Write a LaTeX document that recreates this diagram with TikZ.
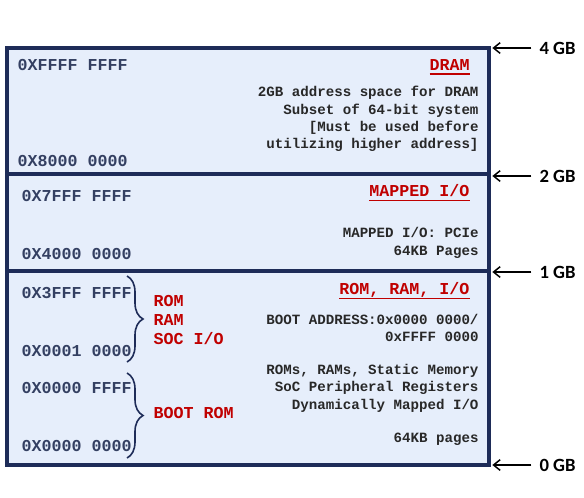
\documentclass[tikz,border=0pt]{standalone}
\usepackage{fontspec}
\setmonofont{Liberation Mono}
\newfontfamily\gbfont{Carlito}
\usetikzlibrary{arrows.meta,decorations.pathreplacing}

\definecolor{boxfill}{RGB}{230,238,251}
\definecolor{boxline}{RGB}{30,44,88}
\definecolor{addrcol}{RGB}{52,64,98}
\definecolor{desccol}{RGB}{40,40,40}
\definecolor{titlered}{RGB}{192,0,0}

% red title with its underline
\newcommand{\redul}[1]{\setbox0\hbox{#1}\rlap{\copy0}\rule[-3.4pt]{\wd0}{1.1pt}}

\tikzset{every picture/.style={line width=0.75pt},
  membox/.style={draw=boxline, fill=boxfill, line width=2.3pt},
  addr/.style={anchor=west, inner sep=0.75pt, text=addrcol, font=\ttfamily\bfseries\fontsize{12.5}{15}\selectfont},
  desc/.style={anchor=east, inner sep=0.75pt, align=right, text=desccol, font=\ttfamily\bfseries\fontsize{10.6}{13}\selectfont},
  memtitle/.style={anchor=east, inner sep=0.75pt, text=titlered, font=\ttfamily\bfseries\fontsize{12.5}{15}\selectfont},
  redlbl/.style={anchor=west, inner sep=0.75pt, align=left, text=titlered, font=\ttfamily\bfseries\fontsize{12.5}{13.9}\selectfont},
  gblbl/.style={anchor=west, inner sep=0.75pt, font=\gbfont\bfseries\fontsize{14}{16}\selectfont},
  gbarrow/.style={-{Straight Barb[length=5pt,width=8pt]}, line width=1.1pt, shorten <=5pt, shorten >=2.5pt},
  addrbrace/.style={decorate, decoration={brace, amplitude=12pt}, draw=boxline, line width=1.2pt}
}

\begin{document}
\begin{tikzpicture}[x=0.75pt,y=0.75pt,yscale=-1,xscale=1]
\useasboundingbox (0,0) rectangle (584,497);

%Shape: Rectangle [DRAM]
\draw[membox] (7,48) rectangle (489,174);
%Shape: Rectangle [MAPPED I/O]
\draw[membox] (7,174) rectangle (489,271);
%Shape: Rectangle [ROM, RAM, I/O]
\draw[membox] (7,271) rectangle (489,465);

% box corners for the arrows
\coordinate (b4) at (489,48);
\coordinate (b2) at (489,174);
\coordinate (b1) at (489,271);
\coordinate (b0) at (489,465);

% Text Node
\draw (16,65) node [addr] (a7) {0XFFFF FFFF};
\draw (16,161) node [addr] (a6) {0X8000 0000};
\draw (20,196) node [addr] (a5) {0X7FFF FFFF};
\draw (20,254) node [addr] (a4) {0X4000 0000};
\draw (20,293) node [addr] (a3) {0X3FFF FFFF};
\draw (20,351) node [addr] (a2) {0X0001 0000};
\draw (20,388) node [addr] (a1) {0X0000 FFFF};
\draw (20,446) node [addr] (a0) {0X0000 0000};

% Text Node
\draw (471,67) node [memtitle] (tdram) {\redul{DRAM}};
\draw (471,193) node [memtitle] (tmmio) {\redul{MAPPED I/O}};
\draw (471,291) node [memtitle] (trom) {\redul{ROM, RAM, I/O}};

% Text Node
\draw (480,119) node [desc] (ddram) {2GB address space for DRAM\\Subset of 64-bit system\\{[}Must be used before\\utilizing higher address{]}};
\draw (480,243) node [desc] (dmmio) {MAPPED I/O: PCIe\\64KB Pages};
\draw (480,328) node [desc] (dboot) {BOOT ADDRESS:0x0000 0000/\\0xFFFF 0000};
\draw (480,388) node [desc] (drom) {ROMs, RAMs, Static Memory\\SoC Peripheral Registers\\Dynamically Mapped I/O};
\draw (480,439) node [desc] (dpage) {64KB pages};

% Braces
\draw[addrbrace] (127,276) -- (127,362);
\draw[addrbrace] (127,373) -- (127,458);

% Text Node
\draw (152,320) node [redlbl] (lsoc) {ROM\\RAM\\SOC I/O};
\draw (152,413) node [redlbl] (lboot) {BOOT ROM};

% Text Node
\draw (538,48) node [gblbl] (gb4) {4 GB};
\draw (538,176) node [gblbl] (gb2) {2 GB};
\draw (538,272) node [gblbl] (gb1) {1 GB};
\draw (538,465) node [gblbl] (gb0) {0 GB};

%Straight Lines
\draw[gbarrow] (gb4.west) -- (b4);
\draw[gbarrow] (gb2.west) -- (gb2.west -| b2);
\draw[gbarrow] (gb1.west) -- (gb1.west -| b1);
\draw[gbarrow] (gb0.west) -- (b0);

\end{tikzpicture}
\end{document}
